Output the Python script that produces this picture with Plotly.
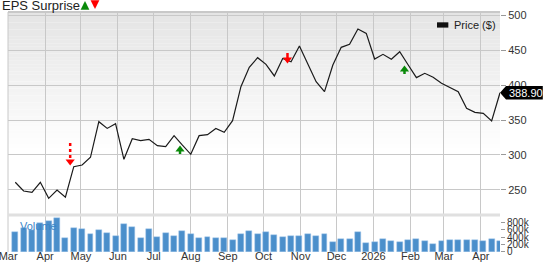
import pandas as pd
import plotly.graph_objects as go

# ---------------- data ----------------
week_start = "2025-03-07"
price = [261, 248.6, 246.7, 261, 238.1, 250, 239.6, 283.3, 285.7, 296.7,
         347.6, 338, 344.8, 293.8, 323.3, 320.5, 322.4, 313.3, 311.9, 327.6,
         314, 301, 327.6, 329, 338, 332.4, 349, 397.6, 425.2, 439,
         429.5, 412.9, 438, 433.3, 455.7, 430, 404.8, 390.5, 428.6, 453.8,
         458.1, 480, 473.8, 437.1, 443.8, 436.7, 447.6, 429, 410.5, 416.7,
         411, 402.4, 396.7, 390.5, 366.7, 361, 359.5, 348.6, 388.9]
volume_k = [546, 650, 580, 773, 837, 910, 382, 646, 619, 482,
            592, 510, 428, 755, 664, 382, 610, 410, 500, 428,
            564, 473, 382, 410, 364, 382, 319, 482, 564, 482,
            528, 455, 391, 428, 428, 482, 437, 482, 273, 346,
            346, 537, 246, 264, 337, 291, 264, 309, 337, 291,
            218, 291, 309, 309, 309, 309, 291, 346, 291]
dates = pd.date_range(week_start, periods=len(price), freq="7D")
volume = [v * 1000 for v in volume_k]

month_ticks = pd.date_range("2025-03-01", "2026-04-01", freq="MS")
month_text = ["Mar", "Apr", "May", "Jun", "Jul", "Aug", "Sep", "Oct", "Nov",
              "Dec", "2026", "Feb", "Mar", "Apr"]
price_ticks = [250, 300, 350, 400, 450, 500]
vol_ticks = [0, 200000, 400000, 600000, 800000]
vol_text = ["0", "200k", "400k", "600k", "800k"]

eps_dates = ["2025-04-22", "2025-07-23", "2025-10-21", "2026-01-27"]
eps_kind = ["miss", "beat", "miss", "beat"]
eps_head = [290.7, 307.9, 436.4, 422.1]   # price level of arrow head centre
eps_tail = [317.0, 301.4, 445.7, 415.7]   # price level of arrow tail
last_price = price[-1]

PRICE_RANGE = [161.4, 504.3]
FONT = "Arial, Liberation Sans, sans-serif"
GREEN = "#0a8a0a"
RED = "#ff0000"
BAR = "#4b8fcb"

fig = go.Figure()

# volume bars
fig.add_trace(go.Bar(x=dates, y=volume, yaxis="y2", width=5 * 86400000,
                     marker=dict(color=BAR, line=dict(color="#9ec5e8", width=0.5)),
                     hoverinfo="skip", showlegend=False))

# price line
fig.add_trace(go.Scatter(x=dates, y=price, mode="lines", name="Price ($)",
                         line=dict(color="#1a1a1a", width=1.2),
                         showlegend=False))

# EPS surprise arrows
for d, k, h, t in zip(eps_dates, eps_kind, eps_head, eps_tail):
    col = RED if k == "miss" else GREEN
    fig.add_trace(go.Scatter(x=[d, d], y=[t, h], mode="lines",
                             line=dict(color=col, width=2.5,
                                       dash="dot" if (k == "miss" and abs(t - h) > 15) else "solid"),
                             showlegend=False, hoverinfo="skip"))
    fig.add_trace(go.Scatter(x=[d], y=[h], mode="markers",
                             marker=dict(symbol="triangle-down" if k == "miss" else "triangle-up",
                                         size=8, color=col),
                             showlegend=False, hoverinfo="skip"))

shapes = []
# background gradient (top grey -> white)
n = 40
y_lo = 0.42
for i in range(n):
    f = (i + 0.5) / n
    c = int(round(255 - (255 - 228) * f))
    shapes.append(dict(type="rect", xref="paper", yref="paper", x0=0, x1=1,
                       y0=y_lo + (1 - y_lo) * i / n, y1=y_lo + (1 - y_lo) * (i + 1) / n,
                       fillcolor=f"rgb({c},{c},{c})", line=dict(width=0), layer="below"))
# top & left border
shapes.append(dict(type="line", xref="paper", yref="paper", x0=0, x1=1, y0=1, y1=1,
                   line=dict(color="#c8c8c8", width=2)))
shapes.append(dict(type="line", xref="paper", yref="paper", x0=0, x1=0, y0=0, y1=1,
                   line=dict(color="#c8c8c8", width=1)))
# separator between price and volume panes
shapes.append(dict(type="line", xref="paper", yref="paper", x0=0, x1=1, y0=0.154, y1=0.154,
                   line=dict(color="#e0e0e0", width=3)))
# legend swatch
shapes.append(dict(type="rect", xref="paper", yref="paper", x0=0.872, x1=0.895,
                   y0=0.935, y1=0.957, fillcolor="#111111", line=dict(width=0)))
# last price pointer box (paper coords derived from the price axis range)
yp = (last_price - PRICE_RANGE[0]) / (PRICE_RANGE[1] - PRICE_RANGE[0])
half = 0.028
shapes.append(dict(type="path", xref="paper", yref="paper",
                   path=(f"M 1.0,{yp} L 1.0122,{yp + half} "
                         f"L 1.087,{yp + half} L 1.087,{yp - half} "
                         f"L 1.0122,{yp - half} Z"),
                   fillcolor="#000000", line=dict(width=0)))

annotations = [
    dict(text="EPS Surprise", xref="paper", yref="paper", x=-0.0163, y=1.029,
         xanchor="left", yanchor="middle", showarrow=False,
         font=dict(family=FONT, size=13, color="#222222")),
    dict(text="", xref="paper", yref="paper", x=0.1565, y=1.046, ax=0, ay=8,
         showarrow=True, arrowhead=2, arrowsize=0.8, arrowwidth=2.2, arrowcolor=GREEN),
    dict(text="", xref="paper", yref="paper", x=0.1768, y=1.0125, ax=0, ay=-8,
         showarrow=True, arrowhead=2, arrowsize=0.8, arrowwidth=2.2, arrowcolor=RED),
    dict(text="Price ($)", xref="paper", yref="paper", x=0.902, y=0.946,
         xanchor="left", yanchor="middle", showarrow=False,
         font=dict(family=FONT, size=11, color="#222222")),
    dict(text=f"{last_price:.2f}", xref="paper", yref="paper", x=1.015, y=yp,
         xanchor="left", yanchor="middle", showarrow=False,
         font=dict(family=FONT, size=11, color="#ffffff")),
    dict(text="Volume", xref="paper", yref="paper", x=0.0203, y=0.108,
         xanchor="left", yanchor="middle", showarrow=False,
         font=dict(family=FONT, size=11, color="#3a86c8")),
]

fig.update_layout(
    width=546, height=264,
    margin=dict(l=8, r=46, t=12, b=12, pad=0),
    paper_bgcolor="white", plot_bgcolor="white",
    font=dict(family=FONT, size=11, color="#333333"),
    showlegend=False,
    bargap=0,
    shapes=shapes, annotations=annotations,
    xaxis=dict(type="date", range=["2025-02-28 22:00", "2026-04-17"], automargin=False,
               tickvals=month_ticks, ticktext=month_text, ticks="",
               ticklabeloverflow="allow", ticklabelstandoff=-4,
               showgrid=True, gridcolor="#c8c8c8", gridwidth=1,
               zeroline=False, showline=False,
               tickfont=dict(family=FONT, size=11, color="#333333")),
    yaxis=dict(domain=[0, 1], range=PRICE_RANGE, side="right", automargin=False,
               tickvals=price_ticks, ticks="outside", ticklen=5, tickcolor="#999999",
               showgrid=True, gridcolor="#c8c8c8", gridwidth=1, zeroline=False,
               tickfont=dict(family=FONT, size=11, color="#333333")),
    yaxis2=dict(domain=[0, 0.154], range=[-8000, 1000000], side="right", anchor="x",
                automargin=False,
                tickvals=vol_ticks, ticktext=vol_text, ticks="outside", ticklen=4,
                tickcolor="#999999", showgrid=False, zeroline=False,
                tickfont=dict(family=FONT, size=10, color="#333333")),
)

fig.write_html("out.html")
